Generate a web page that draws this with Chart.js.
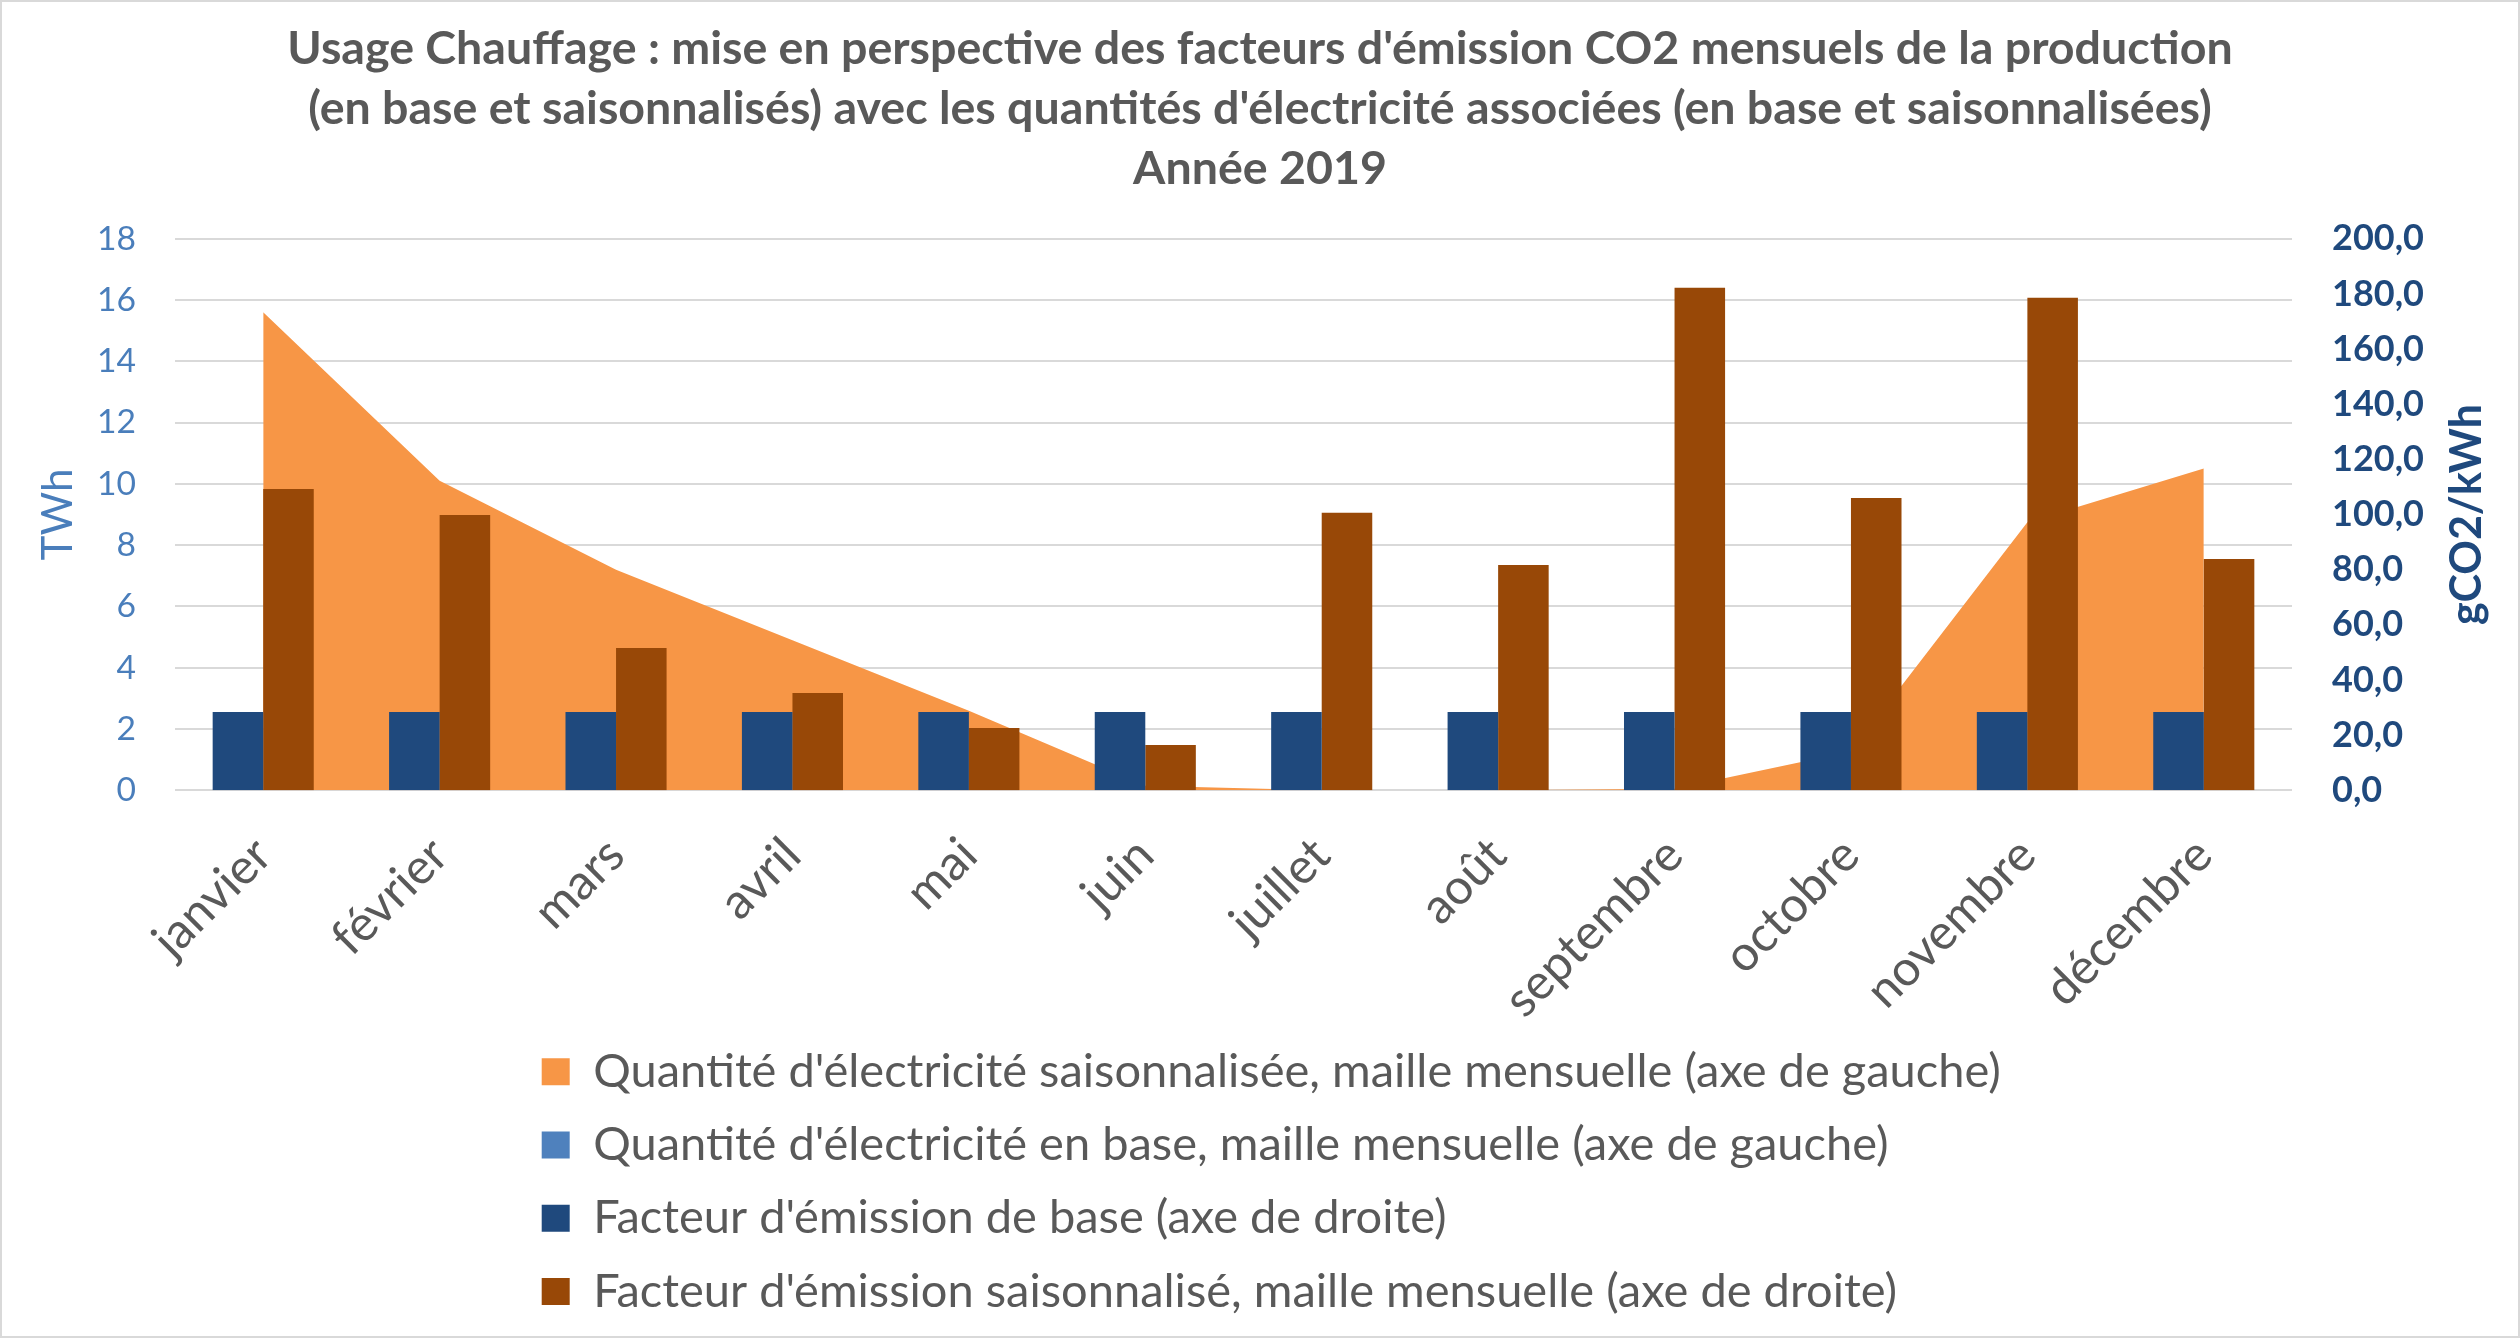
<!DOCTYPE html>
<html><head><meta charset="utf-8">
<script src="https://cdn.jsdelivr.net/npm/chart.js@4.4.1/dist/chart.umd.min.js"></script>
<style>
html,body{margin:0;padding:0;background:#fff;overflow:hidden}
#wrap{position:relative;width:2520px;height:1338px}
#frame{position:absolute;left:0;top:0;width:2516px;height:1334px;border:2px solid #D9D9D9;pointer-events:none}
canvas{display:block}
</style></head><body>
<div id="wrap"><canvas id="c" width="2520" height="1338"></canvas><div id="frame"></div></div>
<script>
// ---------- data ----------
const months = ['janvier','février','mars','avril','mai','juin','juillet','août','septembre','octobre','novembre','décembre'];
const qtySaison = [15.6, 10.1, 7.2, 4.9, 2.6, 0.15, 0, 0, 0.05, 1.27, 8.75, 10.5];           // TWh
const qtyBase = [null, null, null, null, null, null, null, null, null, null, null, null];      // TWh (no visible values)
const facteurBase = [28.4, 28.4, 28.4, 28.4, 28.4, 28.4, 28.4, 28.4, 28.4, 28.4, 28.4, 28.4];  // gCO2/kWh
const facteurSaison = [109.3, 99.8, 51.6, 35.3, 22.6, 16.4, 100.6, 81.7, 182.2, 106.0, 178.6, 83.9]; // gCO2/kWh
const leftTickValues = [0, 2, 4, 6, 8, 10, 12, 14, 16, 18];
const rightTickValues = [0, 20, 40, 60, 80, 100, 120, 140, 160, 180, 200];
const seriesNames = [
  "Quantité d'électricité saisonnalisée, maille mensuelle (axe de gauche)",
  "Quantité d'électricité en base, maille mensuelle (axe de gauche)",
  "Facteur d'émission de base (axe de droite)",
  "Facteur d'émission saisonnalisé, maille mensuelle (axe de droite)"
];
const titleLines = [
  "Usage Chauffage : mise en perspective des facteurs d'émission CO2 mensuels de la production",
  "(en base et saisonnalisés) avec les quantités d'électricité associées (en base et saisonnalisées)",
  "Année 2019"
];
const leftAxisTitle = 'TWh';
const rightAxisTitle = 'gCO2/kWh';

// ---------- styling helpers ----------
const FAMILY = "Lato, 'Liberation Sans', 'DejaVu Sans', sans-serif";
const mctx = document.createElement('canvas').getContext('2d');
function fitSize(text, weight, target) {
  mctx.font = weight + ' 100px ' + FAMILY;
  return 100 * target / mctx.measureText(text).width;
}
const titleSize = fitSize(titleLines[0], 'bold', 1946);
const legendSize = fitSize(seriesNames[0], 'normal', 1408);
const xSize = fitSize('septembre', 'normal', 228);
const leftTickSize = fitSize('18', 'normal', 39);
const rightTickSize = fitSize('200,0', 'bold', 92);
const twhSize = fitSize(leftAxisTitle, 'normal', 92);
const gcoSize = fitSize(rightAxisTitle, 'bold', 221);

const AREA = {left: 175, right: 2292, top: 238.75, bottom: 790.3};
const PAD = 4;
const legendPad = 73.3 - Math.max(legendSize, 27);

const customPlugin = {
  id: 'customLayout',
  afterLayout(chart) {
    const lg = chart.legend;
    if (!lg) return;
    const left = 541.7 - legendPad;
    const top = 1071.7 - legendPad - legendSize / 2;
    lg.left = left; lg.right = left + 1700; lg.width = 1700;
    lg.top = top; lg.bottom = top + 320; lg.height = 320;
  },
  afterDraw(chart) {
    const ctx = chart.ctx;
    const a = chart.chartArea;
    ctx.save();
    ctx.translate(chart.width - 53, (a.top + a.bottom) / 2);
    ctx.rotate(-Math.PI / 2);
    ctx.textAlign = 'center';
    ctx.textBaseline = 'middle';
    ctx.fillStyle = '#1F497D';
    ctx.font = 'bold ' + gcoSize + 'px ' + FAMILY;
    ctx.fillText(rightAxisTitle, 0, 0);
    ctx.restore();
  }
};

new Chart(document.getElementById('c'), {
  type: 'bar',
  data: {
    labels: months,
    datasets: [
      {type: 'line', label: seriesNames[0], data: qtySaison, yAxisID: 'y', fill: 'origin',
       backgroundColor: '#F79646', borderColor: 'rgba(0,0,0,0)', borderWidth: 0,
       pointRadius: 0, pointHoverRadius: 0, tension: 0, order: 3},
      {type: 'line', label: seriesNames[1], data: qtyBase, yAxisID: 'y', fill: 'origin',
       backgroundColor: '#4F81BD', borderColor: 'rgba(0,0,0,0)', borderWidth: 0,
       pointRadius: 0, pointHoverRadius: 0, tension: 0, order: 2},
      {type: 'bar', label: seriesNames[2], data: facteurBase, yAxisID: 'y1',
       backgroundColor: '#1F497D', borderWidth: 0, order: 1,
       categoryPercentage: 0.573, barPercentage: 1.0},
      {type: 'bar', label: seriesNames[3], data: facteurSaison, yAxisID: 'y1',
       backgroundColor: '#984807', borderWidth: 0, order: 1,
       categoryPercentage: 0.573, barPercentage: 1.0}
    ]
  },
  options: {
    responsive: false,
    maintainAspectRatio: false,
    animation: false,
    devicePixelRatio: 1,
    layout: {padding: {left: PAD, right: PAD, top: 0, bottom: 0}},
    plugins: {
      tooltip: {enabled: false},
      title: {
        display: true,
        text: titleLines,
        color: '#595959',
        font: {family: FAMILY, size: titleSize, weight: 'bold', lineHeight: '60px'},
        padding: {top: 18.5, bottom: AREA.top - 18.5 - 180}
      },
      legend: {
        display: true,
        position: 'bottom',
        align: 'start',
        maxHeight: 1,
        labels: {
          color: '#595959',
          font: {family: FAMILY, size: legendSize},
          boxWidth: 28,
          boxHeight: 27,
          padding: legendPad,
          sort: (a, b) => a.datasetIndex - b.datasetIndex
        }
      }
    },
    scales: {
      x: {
        grid: {display: false, drawTicks: false},
        border: {display: false},
        ticks: {color: '#595959', font: {family: FAMILY, size: xSize},
                minRotation: 45, maxRotation: 45, autoSkip: false, padding: 36},
        afterFit(scale) {
          const lh = scale.chart.legend ? scale.chart.legend.height : 0;
          scale.height = scale.chart.height - lh - AREA.bottom;
        }
      },
      y: {
        position: 'left',
        min: leftTickValues[0],
        max: leftTickValues[leftTickValues.length - 1],
        ticks: {stepSize: leftTickValues[1] - leftTickValues[0], color: '#4A7EBB',
                font: {family: FAMILY, size: leftTickSize}, padding: 39},
        grid: {color: '#D9D9D9', lineWidth: 2, drawTicks: false},
        border: {display: false},
        title: {display: true, text: leftAxisTitle, color: '#4A7EBB',
                font: {family: FAMILY, size: twhSize},
                padding: {top: 58 - PAD - 0.6 * twhSize, bottom: 0}},
        afterFit(scale) { scale.width = AREA.left - PAD; }
      },
      y1: {
        position: 'right',
        min: rightTickValues[0],
        max: rightTickValues[rightTickValues.length - 1],
        ticks: {stepSize: rightTickValues[1] - rightTickValues[0], color: '#1F497D',
                font: {family: FAMILY, size: rightTickSize, weight: 'bold'}, padding: 40,
                callback: (v) => Number(v).toFixed(1).replace('.', ',')},
        grid: {display: false, drawTicks: false},
        border: {display: false},
        afterFit(scale) { scale.width = 2520 - PAD - AREA.right; }
      }
    }
  },
  plugins: [customPlugin]
});
</script>
</body></html>
